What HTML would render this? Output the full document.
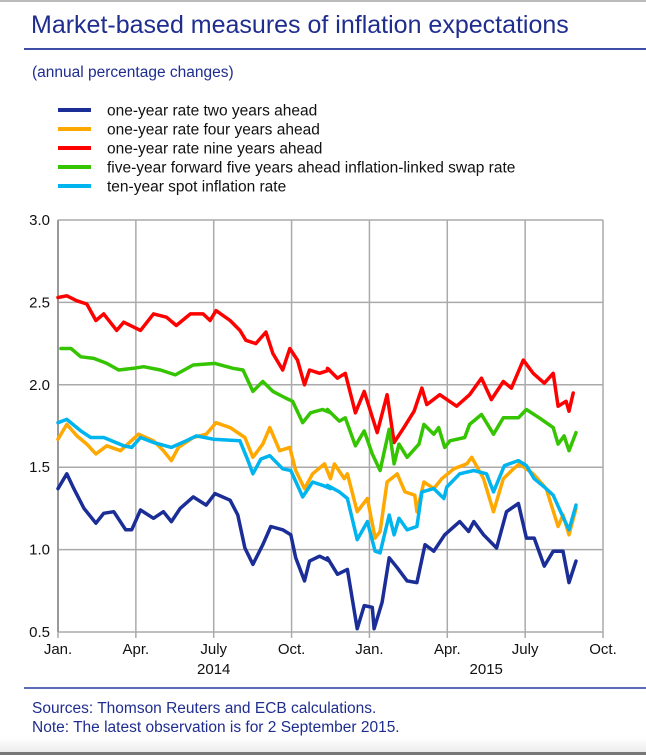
<!DOCTYPE html>
<html><head><meta charset="utf-8"><style>
body{margin:0;background:#fff;width:646px;height:755px;overflow:hidden;font-family:"Liberation Sans",sans-serif;position:relative}
.t{position:absolute;color:#1f2d8f;white-space:nowrap}
</style></head><body>
<div style="position:absolute;left:0;top:0;width:646px;height:2px;background:#bbb"></div>
<div class="t" style="left:31px;top:11px;font-size:25px">Market-based measures of inflation expectations</div>
<div style="position:absolute;left:24px;top:48px;width:622px;height:2px;background:#3d4ea6"></div>
<div class="t" style="left:32px;top:64px;font-size:15.5px">(annual percentage changes)</div>
<div style="position:absolute;left:24px;top:687px;width:622px;height:2px;background:#5b6cb8"></div>
<div class="t" style="left:32px;top:700px;font-size:15.5px">Sources: Thomson Reuters and ECB calculations.</div>
<div class="t" style="left:32px;top:719px;font-size:15.5px">Note: The latest observation is for 2 September 2015.</div>
<div style="position:absolute;left:0;top:738px;width:646px;height:17px;background:linear-gradient(#fff,#e8e8e8)"></div>
<div style="position:absolute;left:0;top:752px;width:646px;height:3px;background:#777"></div>
<svg id="chart" width="646" height="755" style="position:absolute;left:0;top:0" font-family="Liberation Sans, sans-serif"></svg>
<script>
const seriesNames=["one-year rate two years ahead","one-year rate four years ahead","one-year rate nine years ahead","five-year forward five years ahead inflation-linked swap rate","ten-year spot inflation rate"];
const seriesColors=["#1b2d96","#ffa800","#ff0000","#35c400","#00b4ef"];
const yTicks=[3.0,2.5,2.0,1.5,1.0,0.5];
const xTickMonths=[0,3,6,9,12,15,18,21];
const xTickLabels=["Jan.","Apr.","July","Oct.","Jan.","Apr.","July","Oct."];
const yearLabels=["2014","2015"];
const yearMonths=[6,16.5];
// months since Jan 2014, values
const blueT=[0,0.34,0.61,1.0,1.46,1.76,2.15,2.61,2.84,3.18,3.68,4.06,4.37,4.71,5.21,5.71,6.05,6.63,6.93,7.2,7.51,7.89,8.2,8.66,8.97,9.16,9.5,9.69,10.08,10.46,10.38,10.77,11.15,11.53,11.8,12.11,12.18,12.49,12.76,13.07,13.45,13.83,14.14,14.48,14.9,15.48,15.82,16.02,16.4,16.9,17.28,17.74,18.05,18.35,18.74,19.08,19.46,19.69,19.96];
const blueV=[1.37,1.46,1.37,1.25,1.16,1.22,1.23,1.12,1.12,1.24,1.19,1.23,1.17,1.25,1.32,1.27,1.34,1.30,1.21,1.01,0.91,1.03,1.14,1.12,1.09,0.95,0.81,0.93,0.96,0.93,0.95,0.85,0.88,0.52,0.66,0.65,0.52,0.68,0.95,0.89,0.81,0.80,1.03,0.99,1.09,1.17,1.11,1.17,1.09,1.01,1.23,1.28,1.07,1.07,0.90,0.99,0.99,0.80,0.93];
const orangeT=[0,0.34,0.73,1.11,1.46,1.88,2.41,3.1,3.68,4.06,4.37,4.64,5.21,5.71,6.09,6.63,7.2,7.51,7.89,8.16,8.54,8.93,9.16,9.5,9.81,10.27,10.5,10.65,11.03,11.15,11.53,11.92,12.22,12.41,12.68,13.07,13.37,13.75,13.83,14.1,14.48,14.79,15.25,15.75,15.94,16.4,16.78,17.16,17.55,17.78,18.31,18.81,19.27,19.46,19.69,19.96];
const orangeV=[1.67,1.76,1.69,1.64,1.58,1.63,1.60,1.70,1.66,1.60,1.54,1.62,1.68,1.70,1.77,1.74,1.68,1.56,1.64,1.74,1.60,1.62,1.48,1.37,1.46,1.52,1.43,1.52,1.43,1.46,1.23,1.31,1.07,1.11,1.41,1.46,1.35,1.33,1.23,1.41,1.37,1.43,1.49,1.52,1.56,1.43,1.23,1.43,1.49,1.52,1.46,1.37,1.14,1.21,1.09,1.25];
const redT=[0,0.34,0.73,1.11,1.46,1.76,2.26,2.53,3.18,3.68,4.18,4.56,5.1,5.59,5.86,6.09,6.63,7.01,7.24,7.62,8.01,8.28,8.66,8.93,9.23,9.5,9.69,10.08,10.46,10.38,10.77,11.07,11.46,11.8,12.3,12.68,12.95,13.33,13.72,14.02,14.21,14.71,15.36,15.86,16.32,16.7,17.16,17.47,17.93,18.31,18.74,19.08,19.27,19.58,19.69,19.85];
const redV=[2.53,2.54,2.51,2.49,2.39,2.43,2.33,2.38,2.33,2.43,2.41,2.36,2.43,2.43,2.39,2.45,2.39,2.33,2.27,2.25,2.32,2.19,2.09,2.22,2.15,2.00,2.09,2.07,2.09,2.10,2.04,2.07,1.83,1.96,1.71,1.94,1.65,1.74,1.84,1.98,1.88,1.94,1.87,1.94,2.04,1.91,2.02,1.98,2.15,2.07,2.01,2.07,1.87,1.90,1.84,1.95];
const greenT=[0.11,0.5,0.88,1.38,1.88,2.34,2.91,3.3,3.95,4.52,5.21,6.05,6.74,7.13,7.51,7.89,8.28,8.77,9.04,9.43,9.73,10.19,10.5,10.38,10.84,11.07,11.46,11.8,12.11,12.41,12.76,12.95,13.14,13.45,13.91,14.1,14.48,14.67,14.9,15.1,15.67,15.86,16.32,16.78,17.16,17.74,18.05,18.54,19.08,19.27,19.5,19.69,19.96];
const greenV=[2.22,2.22,2.17,2.16,2.13,2.09,2.10,2.11,2.09,2.06,2.12,2.13,2.10,2.09,1.96,2.02,1.96,1.92,1.90,1.77,1.83,1.85,1.83,1.85,1.78,1.80,1.63,1.72,1.58,1.48,1.73,1.52,1.64,1.56,1.64,1.76,1.70,1.74,1.62,1.66,1.68,1.76,1.82,1.70,1.80,1.80,1.85,1.80,1.74,1.64,1.69,1.60,1.71];
const cyanT=[0,0.34,0.88,1.26,1.76,2.53,2.84,3.18,3.68,4.37,4.94,5.33,5.98,7.01,7.32,7.51,7.82,8.16,8.66,8.97,9.43,9.81,10.19,10.5,10.38,10.84,11.15,11.53,11.92,12.22,12.41,12.76,12.95,13.14,13.45,13.83,14.02,14.48,14.87,14.98,15.48,16.02,16.51,16.78,17.2,17.74,18.05,18.35,18.74,19.08,19.31,19.69,19.96];
const cyanV=[1.77,1.79,1.72,1.68,1.68,1.63,1.62,1.68,1.65,1.62,1.66,1.69,1.67,1.66,1.54,1.46,1.55,1.57,1.49,1.48,1.32,1.41,1.39,1.37,1.39,1.35,1.31,1.06,1.17,0.99,0.98,1.21,1.09,1.19,1.12,1.14,1.35,1.37,1.31,1.38,1.46,1.48,1.46,1.35,1.51,1.54,1.51,1.43,1.38,1.33,1.25,1.12,1.27];

const NS="http://www.w3.org/2000/svg";
const svg=document.getElementById('chart');
const L=58,R=603,T=220,B=632;
const xS=m=>L+m*(R-L)/21;
const yS=v=>T+(3-v)*(B-T)/2.5;
function mk(tag,attrs){const e=document.createElementNS(NS,tag);for(const k in attrs)e.setAttribute(k,attrs[k]);svg.appendChild(e);return e;}

// legend
const legY0=110,legDy=19;
seriesNames.forEach((n,i)=>{
  const ln=mk('line',{x1:58,x2:91,y1:legY0+i*legDy,y2:legY0+i*legDy,stroke:seriesColors[i],'stroke-width':4});
  
  
  const tx=mk('text',{x:107,y:legY0+i*legDy+5.5,'font-size':15.5,fill:'#111'});
  tx.textContent=n;
  
  
});

// grid
yTicks.forEach(v=>{
  const g=mk('line',{x1:L,x2:R,y1:yS(v),y2:yS(v),stroke:'#aaa','stroke-width':1.5});
  
  
  const t=mk('text',{x:50,y:yS(v)+5,'font-size':15,'text-anchor':'end',fill:'#111'});
  t.textContent=v.toFixed(1);
  
  
});
xTickMonths.forEach((m,i)=>{
  const g=mk('line',{x1:xS(m),x2:xS(m),y1:T,y2:B+6,stroke:'#aaa','stroke-width':1.5});
  
  
  const t=mk('text',{x:xS(m),y:654,'font-size':15,'text-anchor':'middle',fill:'#111'});
  t.textContent=xTickLabels[i];
  
  
});
yearLabels.forEach((y,i)=>{
  const t=mk('text',{x:xS(yearMonths[i]),y:674,'font-size':15,'text-anchor':'middle',fill:'#111'});
  t.textContent=y;
  
  
});
const lx=mk('line',{x1:L,x2:L,y1:T,y2:B,stroke:'#999','stroke-width':2});



const allT=[blueT,orangeT,redT,greenT,cyanT];
const allV=[blueV,orangeV,redV,greenV,cyanV];
const drawOrder=[2,3,1,4,0];
const keys=['blue','orange','red','green','cyan'];
drawOrder.forEach(i=>{
  const pts=allT[i].map((m,j)=>xS(m).toFixed(1)+','+yS(allV[i][j]).toFixed(1)).join(' ');
  const p=mk('polyline',{points:pts,fill:'none',stroke:seriesColors[i],'stroke-width':3.5,'stroke-linejoin':'round','stroke-linecap':'round'});
  
  
});
</script>
</body></html>
